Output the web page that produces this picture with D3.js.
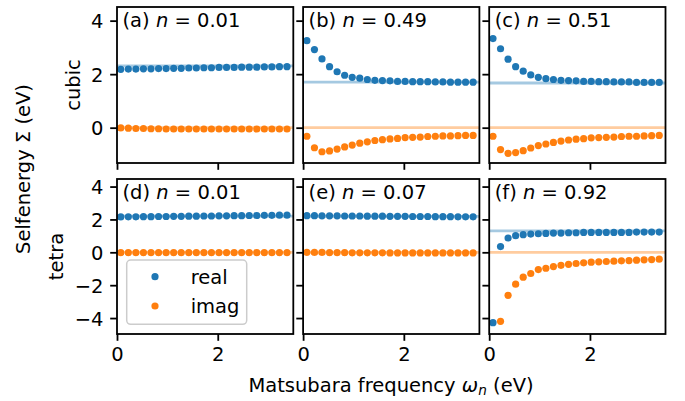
<!DOCTYPE html>
<html><head><meta charset="utf-8">
<script src="https://cdn.jsdelivr.net/npm/d3@7"></script>
<style>
body{margin:0;background:#fff}
svg{display:block}
text{font-family:"DejaVu Sans",sans-serif;fill:#000}
</style>
</head><body>
<svg id="chart" width="685" height="401"></svg>
<script>
// ---- data ----
const omega = [0.075,0.225,0.375,0.525,0.675,0.825,0.975,1.125,1.275,1.425,1.575,1.725,1.875,2.025,2.175,2.325,2.475,2.625,2.775,2.925,3.075,3.225,3.375];
const panelLetters = ["(a)","(b)","(c)","(d)","(e)","(f)"];
const fillings = ["0.01","0.49","0.51","0.01","0.07","0.92"];
const rowLabels = ["cubic","tetra"];
const seriesNames = ["real","imag"];

const realA = [2.18,2.19,2.19,2.20,2.20,2.21,2.21,2.22,2.22,2.23,2.23,2.24,2.24,2.25,2.25,2.25,2.26,2.26,2.26,2.27,2.27,2.28,2.28];
const imagA = [-0.01,-0.02,-0.03,-0.03,-0.04,-0.04,-0.05,-0.05,-0.05,-0.05,-0.05,-0.05,-0.05,-0.05,-0.05,-0.05,-0.05,-0.05,-0.05,-0.05,-0.05,-0.05,-0.05];
const realB = [3.25,2.92,2.57,2.28,2.09,1.96,1.88,1.85,1.80,1.77,1.76,1.75,1.73,1.73,1.72,1.72,1.72,1.71,1.71,1.70,1.70,1.70,1.70];
const imagB = [-0.32,-0.75,-0.90,-0.87,-0.80,-0.72,-0.65,-0.58,-0.53,-0.48,-0.45,-0.42,-0.40,-0.37,-0.36,-0.35,-0.33,-0.32,-0.31,-0.31,-0.30,-0.29,-0.29];
const realC = [3.33,2.95,2.56,2.28,2.11,1.97,1.88,1.83,1.80,1.77,1.76,1.75,1.73,1.73,1.72,1.72,1.71,1.71,1.71,1.69,1.69,1.69,1.69];
const imagC = [-0.32,-0.82,-0.96,-0.93,-0.86,-0.76,-0.67,-0.61,-0.55,-0.50,-0.46,-0.43,-0.41,-0.38,-0.37,-0.36,-0.35,-0.33,-0.32,-0.32,-0.31,-0.30,-0.29];
const realD = [2.15,2.16,2.16,2.17,2.17,2.18,2.18,2.19,2.19,2.20,2.20,2.21,2.21,2.22,2.22,2.23,2.23,2.24,2.24,2.25,2.25,2.26,2.26];
const imagD = [-0.02,-0.02,-0.02,-0.02,-0.02,-0.02,-0.02,-0.02,-0.02,-0.02,-0.02,-0.02,-0.02,-0.02,-0.02,-0.02,-0.02,-0.02,-0.02,-0.02,-0.02,-0.02,-0.02];
const realE = [2.23,2.23,2.22,2.22,2.22,2.21,2.21,2.21,2.20,2.20,2.20,2.19,2.19,2.19,2.18,2.18,2.18,2.17,2.17,2.17,2.16,2.16,2.16];
const imagE = [0.00,-0.01,-0.01,-0.02,-0.02,-0.02,-0.03,-0.03,-0.03,-0.03,-0.03,-0.04,-0.04,-0.04,-0.04,-0.04,-0.04,-0.04,-0.04,-0.04,-0.04,-0.04,-0.04];
const realF = [-4.28,0.35,0.87,1.01,1.07,1.11,1.13,1.15,1.17,1.17,1.19,1.19,1.21,1.21,1.21,1.21,1.21,1.21,1.21,1.23,1.23,1.23,1.23];
const imagF = [-5.60,-4.20,-2.62,-1.94,-1.51,-1.29,-1.05,-0.97,-0.87,-0.79,-0.73,-0.68,-0.64,-0.60,-0.58,-0.56,-0.54,-0.52,-0.50,-0.48,-0.46,-0.44,-0.42];

const realSeries = [realA,realB,realC,realD,realE,realF];
const imagSeries = [imagA,imagB,imagC,imagD,imagE,imagF];
const refReal = [2.31,1.70,1.67,2.20,2.19,1.30];
const refImag = [0,0,0,0,0,0];

const xDomain = [0,3.5];
const xTicks = [0,2];
const yDomains = [[-1.32,4.51],[-4.97,4.46]];
const yTicks = [[0,2,4],[-4,-2,0,2,4]];

// ---- style / layout ----
const BLUE = "#1f77b4", ORANGE = "#ff7f0e";
const FS = 19.5;
const left0 = 117, pw = 176.3, gapX = 9.8;
const tops = [7,179], ph = [156,155];
const tickLen = 6.8, tickPad = 6.8, spineW = 1.8, R = 3.6;

const svg = d3.select("#chart");
const fmt = d => d < 0 ? "\u2212" + Math.abs(d) : String(d);

for (let p = 0; p < 6; p++) {
  const row = Math.floor(p/3), col = p % 3;
  const x0 = left0 + col*(pw+gapX), y0 = tops[row], h = ph[row];
  const xs = d3.scaleLinear().domain(xDomain).range([0,pw]);
  const ys = d3.scaleLinear().domain(yDomains[row]).range([h,0]);
  const g = svg.append("g").attr("transform",`translate(${x0},${y0})`);

  const cid = "clip"+p;
  g.append("clipPath").attr("id",cid).append("rect").attr("width",pw).attr("height",h);
  const plot = g.append("g").attr("clip-path",`url(#${cid})`);

  // reference lines
  plot.append("line").attr("x1",0).attr("x2",pw)
    .attr("y1",ys(refReal[p])).attr("y2",ys(refReal[p]))
    .attr("stroke",BLUE).attr("stroke-opacity",0.4).attr("stroke-width",2.8);
  plot.append("line").attr("x1",0).attr("x2",pw)
    .attr("y1",ys(refImag[p])).attr("y2",ys(refImag[p]))
    .attr("stroke",ORANGE).attr("stroke-opacity",0.4).attr("stroke-width",2.8);

  plot.selectAll("circle.re").data(realSeries[p]).join("circle").attr("class","re")
    .attr("cx",(d,i)=>xs(omega[i])).attr("cy",d=>ys(d)).attr("r",R).attr("fill",BLUE);
  plot.selectAll("circle.im").data(imagSeries[p]).join("circle").attr("class","im")
    .attr("cx",(d,i)=>xs(omega[i])).attr("cy",d=>ys(d)).attr("r",R).attr("fill",ORANGE);

  // axes
  const ax = d3.axisBottom(xs).tickValues(xTicks).tickSize(tickLen).tickPadding(tickPad)
    .tickFormat(row===1 ? fmt : () => "");
  const gx = g.append("g").attr("transform",`translate(0,${h})`).call(ax);
  const ay = d3.axisLeft(ys).tickValues(yTicks[row]).tickSize(tickLen).tickPadding(tickPad)
    .tickFormat(col===0 ? fmt : () => "");
  const gy = g.append("g").call(ay);
  [gx,gy].forEach(a => {
    a.select(".domain").remove();
    a.selectAll(".tick line").attr("stroke","#000").attr("stroke-width",spineW);
    a.selectAll(".tick text").attr("font-size",FS).attr("font-family","DejaVu Sans").attr("fill","#000");
  });
  gy.selectAll(".tick text").attr("dy","0.37em");

  // spines
  g.append("rect").attr("width",pw).attr("height",h).attr("fill","none")
    .attr("stroke","#000").attr("stroke-width",spineW);

  // panel label
  const t = g.append("text").attr("x",5.5).attr("y",19.7).attr("font-size",FS);
  t.append("tspan").text(panelLetters[p] + " ");
  t.append("tspan").attr("font-style","italic").text("n");
  t.append("tspan").text(" = " + fillings[p]);

  // legend in (d)
  if (p === 3) {
    const lg = g.append("g").attr("transform","translate(9.7,81)");
    lg.append("rect").attr("width",120).attr("height",64.3).attr("rx",4)
      .attr("fill","#fff").attr("fill-opacity",0.8).attr("stroke","#cccccc").attr("stroke-width",1.5);
    [BLUE,ORANGE].forEach((c,i) => {
      const yy = 16.7 + i*29.3;
      lg.append("circle").attr("cx",28.3).attr("cy",yy).attr("r",R).attr("fill",c);
      lg.append("text").attr("x",64).attr("y",yy).attr("dy","0.35em").attr("font-size",FS).text(seriesNames[i]);
    });
  }
}

// row labels
rowLabels.forEach((lab,i) => {
  const cx = [80,62.7][i];
  const cy = tops[i] + ph[i]/2;
  svg.append("text").attr("transform",`translate(${cx},${cy}) rotate(-90)`)
    .attr("text-anchor","middle").attr("font-size",FS).text(lab);
});

// global y label
svg.append("text").attr("transform","translate(30,169) rotate(-90)")
  .attr("text-anchor","middle").attr("font-size",FS).text("Selfenergy \u03A3 (eV)");

// global x label
const xl = svg.append("text").attr("x",391).attr("y",391.5).attr("text-anchor","middle").attr("font-size",FS);
xl.append("tspan").text("Matsubara frequency ");
xl.append("tspan").attr("font-style","italic").text("\u03C9");
xl.append("tspan").attr("font-style","italic").attr("font-size",FS*0.7).attr("dy",3.5).text("n");
xl.append("tspan").attr("dy",-3.5).text(" (eV)");
</script>
</body></html>
